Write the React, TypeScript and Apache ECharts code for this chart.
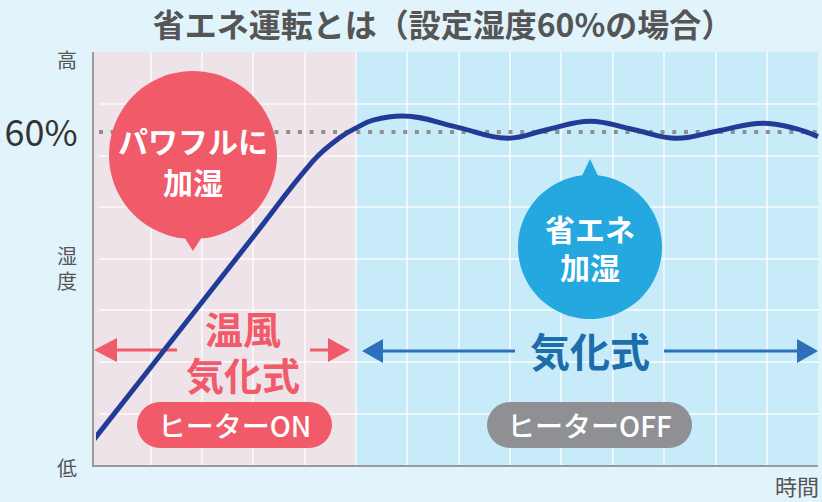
import React, { useEffect, useRef } from "react";
import * as echarts from "echarts";

// ---- data ----
const titleText = "省エネ運転とは（設定湿度60%の場合）";
const yTopLabel = "高";
const yBottomLabel = "低";
const yAxisName = ["湿", "度"];
const setPointLabel = "60%";
const xAxisName = "時間";
const setPoint = 6.46; // 60% line in axis units (0..8)

// humidity curve (x: time cells 0..14, y: humidity cells 0..8)
const timeX = [-0.11, 1.195, 3.004, 4.17, 4.7, 5.03, 5.34, 5.9, 6.95, 7.95, 8.74, 9.56, 10.4, 11.25, 12.09, 12.93, 13.55, 14.0];
const humidityY = [0.48, 2.13, 4.42, 5.89, 6.35, 6.54, 6.68, 6.76, 6.55, 6.33, 6.5, 6.66, 6.5, 6.33, 6.48, 6.62, 6.52, 6.36];

const heaterOnLabel = "ヒーターON";
const heaterOffLabel = "ヒーターOFF";
const bubbleRed = ["パワフルに", "加湿"];
const bubbleBlue = ["省エネ", "加湿"];
const modeRed = ["温風", "気化式"];
const modeBlue = "気化式";

const FONT = '"Noto Sans CJK JP", "Noto Sans", sans-serif';

export default function App() {
  const ref = useRef<HTMLDivElement>(null);
  useEffect(() => {
    if (!ref.current) return;
    const chart = echarts.init(ref.current, undefined, { renderer: "svg" });
    const xColors = Array.from({ length: 15 }, (_, i) => (i === 0 || i === 14 ? "rgba(0,0,0,0)" : "rgba(255,255,255,0.85)"));
    const yColors = Array.from({ length: 9 }, (_, i) => (i === 0 || i === 8 ? "rgba(0,0,0,0)" : "rgba(255,255,255,0.85)"));

    const txt = (
      text: string,
      x: number,
      y: number,
      size: number,
      fill: string,
      weight: string | number = "bold",
      lineHeight?: number
    ) => ({
      type: "text",
      z: 20,
      style: {
        text,
        x,
        y,
        fill,
        fontSize: size,
        fontWeight: weight,
        fontFamily: FONT,
        lineHeight: lineHeight ?? Math.round(size * 1.2),
        textAlign: "center",
        textVerticalAlign: "middle",
        verticalAlign: "middle",
      },
    });

    const red = "#f05a69";
    const blueArrow = "#2b70b8";

    chart.setOption({
      animation: false,
      backgroundColor: "#e1f4fb",
      grid: { left: 99, right: 4, top: 52, bottom: 37 },
      xAxis: {
        type: "value",
        min: 0,
        max: 14,
        interval: 1,
        axisLine: { show: false },
        axisTick: { show: false },
        axisLabel: { show: false },
        splitLine: { show: true, lineStyle: { color: xColors, width: 1.5 } },
      },
      yAxis: {
        type: "value",
        min: 0,
        max: 8,
        interval: 1,
        axisLine: { show: false },
        axisTick: { show: false },
        axisLabel: { show: false },
        splitLine: { show: true, lineStyle: { color: yColors, width: 1.5 } },
      },
      series: [
        {
          type: "line",
          z: 10,
          clip: false,
          smooth: 0.4,
          symbol: "none",
          data: timeX.map((x, i) => [x, humidityY[i]]),
          lineStyle: { color: "#203c96", width: 5 },
          markLine: {
            silent: true,
            symbol: "none",
            label: { show: false },
            lineStyle: { color: "#8f8f8f", width: 4, type: [4, 7.7] },
            data: [{ yAxis: setPoint }],
            z: 5,
          },
        },
      ],
      graphic: [
        // backgrounds
        { type: "rect", z: -10, shape: { x: 93, y: 52, width: 263, height: 414 }, style: { fill: "#ede3e8" } },
        { type: "rect", z: -10, shape: { x: 356, y: 52, width: 462, height: 414 }, style: { fill: "#c8ebfa" } },
        // axis lines
        { type: "line", z: 3, shape: { x1: 93, y1: 52, x2: 93, y2: 466 }, style: { stroke: "#9a9a9a", lineWidth: 2 } },
        { type: "line", z: 3, shape: { x1: 92, y1: 466, x2: 818, y2: 466 }, style: { stroke: "#9a9a9a", lineWidth: 2 } },
        // title
        txt(titleText, 443, 23, 32, "#555555", "bold"),
        // axis labels
        txt(yTopLabel, 67, 59, 20, "#555555", "normal"),
        txt(setPointLabel, 41, 130, 36, "#333333", "normal"),
        txt(yAxisName.join("\n"), 67, 267.5, 20, "#555555", "normal", 25),
        txt(yBottomLabel, 67, 467, 20, "#555555", "normal"),
        txt(xAxisName, 797, 485, 22, "#555555", "normal"),
        // red bubble
        { type: "polygon", z: 15, shape: { points: [[181, 232], [205, 232], [193, 251]] }, style: { fill: red } },
        { type: "circle", z: 15, shape: { cx: 193, cy: 155, r: 84 }, style: { fill: red } },
        txt(bubbleRed.join("\n"), 193, 160.5, 30, "#ffffff", "bold", 41),
        // blue bubble
        { type: "polygon", z: 15, shape: { points: [[579, 182], [601, 182], [590, 159]] }, style: { fill: "#25a8df" } },
        { type: "circle", z: 15, shape: { cx: 590, cy: 247, r: 72 }, style: { fill: "#25a8df" } },
        txt(bubbleBlue.join("\n"), 590, 247, 30, "#ffffff", "bold", 38),
        // red arrows
        { type: "line", z: 4, shape: { x1: 114, y1: 350, x2: 177, y2: 350 }, style: { stroke: red, lineWidth: 3 } },
        { type: "polygon", z: 4, shape: { points: [[94, 350], [117, 338], [117, 362]] }, style: { fill: red } },
        { type: "line", z: 4, shape: { x1: 310, y1: 350, x2: 331, y2: 350 }, style: { stroke: red, lineWidth: 3 } },
        { type: "polygon", z: 4, shape: { points: [[350, 350], [328, 338], [328, 362]] }, style: { fill: red } },
        txt(modeRed.join("\n"), 243, 350, 38, red, "bold", 46),
        // blue arrows
        { type: "line", z: 4, shape: { x1: 380, y1: 351, x2: 515, y2: 351 }, style: { stroke: blueArrow, lineWidth: 3 } },
        { type: "polygon", z: 4, shape: { points: [[362, 351], [383, 339], [383, 363]] }, style: { fill: blueArrow } },
        { type: "line", z: 4, shape: { x1: 664, y1: 351, x2: 800, y2: 351 }, style: { stroke: blueArrow, lineWidth: 3 } },
        { type: "polygon", z: 4, shape: { points: [[818, 351], [797, 339], [797, 363]] }, style: { fill: blueArrow } },
        txt(modeBlue, 590, 350, 40, "#1c6eab"),
        // pills
        { type: "rect", z: 15, shape: { x: 137, y: 402, width: 195, height: 46, r: 23 }, style: { fill: red } },
        txt(heaterOnLabel, 234.5, 425, 28, "#ffffff", 500),
        { type: "rect", z: 15, shape: { x: 487, y: 402, width: 205, height: 46, r: 23 }, style: { fill: "#8e9094" } },
        txt(heaterOffLabel, 589.5, 425, 28, "#ffffff", 500),
      ],
    });
    return () => chart.dispose();
  }, []);
  return <div ref={ref} style={{ position: "fixed", left: 0, top: 0, width: 822, height: 502 }} />;
}
